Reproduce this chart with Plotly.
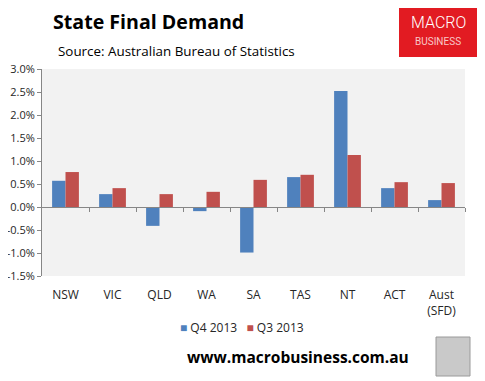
import plotly.graph_objects as go

categories = ["NSW", "VIC", "QLD", "WA", "SA", "TAS", "NT", "ACT", "Aust<br>(SFD)"]
series_names = ["Q4 2013", "Q3 2013"]
q4_2013 = [0.57, 0.28, -0.41, -0.09, -0.99, 0.65, 2.52, 0.41, 0.15]
q3_2013 = [0.76, 0.41, 0.28, 0.33, 0.59, 0.70, 1.13, 0.54, 0.52]
y_ticks = [3.0, 2.5, 2.0, 1.5, 1.0, 0.5, 0.0, -0.5, -1.0, -1.5]
colors = ["#4F81BD", "#C0504D"]

# page body has an 8px margin; work in page pixels and offset
OFF = 8
W, H = 485 - OFF, 381 - OFF
# desired plot area in page pixels: x 42..465, y 69..276
L, R, T, B = 42 - OFF, 485 - 465, 69 - OFF, 381 - 276
FONT = "Open Sans"
PW, PH = W - L - R, H - T - B


def px_x(v):
    return (v - OFF - L) / PW


def px_y(v):
    return 1 - (v - OFF - T) / PH


fig = go.Figure()
fig.add_trace(go.Bar(x=categories, y=q4_2013, name=series_names[0], marker_color=colors[0],
                     marker_line_width=0))
fig.add_trace(go.Bar(x=categories, y=q3_2013, name=series_names[1], marker_color=colors[1],
                     marker_line_width=0))
# helper trace so the zero-line tick axis is drawn
fig.add_trace(go.Scatter(x=[0], y=[0], xaxis="x2", mode="markers", marker_opacity=0,
                         showlegend=False, hoverinfo="skip"))

fig.update_layout(
    width=W, height=H,
    margin=dict(l=L, r=R, t=T, b=B, autoexpand=False),
    paper_bgcolor="white",
    plot_bgcolor="#F2F2F2",
    barmode="group",
    bargap=0.43,
    bargroupgap=0,
    font=dict(family=FONT, size=11, color="#262626"),
    showlegend=False,
    xaxis=dict(type="category", showline=False, ticks="", showgrid=False,
               tickfont=dict(size=12, color="#262626"), range=[-0.5, 8.5],
               ticklabelstandoff=10, automargin=False),
    xaxis2=dict(overlaying="x", anchor="free", position=1.5 / 4.5, range=[-0.5, 8.5],
                showline=True, linecolor="#868686", linewidth=1,
                ticks="outside", ticklen=4, tickcolor="#868686",
                tickvals=[0.5, 1.5, 2.5, 3.5, 4.5, 5.5, 6.5, 7.5, 8.5],
                showticklabels=False, showgrid=False, zeroline=False, side="bottom",
                automargin=False),
    yaxis=dict(range=[-1.5, 3.0], tickvals=y_ticks,
               ticktext=[f"{v:.1f}%" for v in y_ticks],
               showline=True, linecolor="#868686", linewidth=1,
               ticks="outside", ticklen=4, tickcolor="#868686",
               showgrid=False, zeroline=False, automargin=False,
               tickfont=dict(size=11, color="#262626")),
)

# legend (as text with coloured squares)
legend_text = "   ".join(
    f"<span style='color:{c}'>■</span> {n}" for c, n in zip(colors, series_names))
fig.add_annotation(text=legend_text, xref="paper", yref="paper",
                   x=px_x(242), y=px_y(327), xanchor="center", yanchor="middle",
                   showarrow=False, font=dict(family=FONT, size=12, color="#262626"))

# titles
fig.add_annotation(text="<b>State Final Demand</b>", xref="paper", yref="paper",
                   x=px_x(51), y=px_y(22),
                   xanchor="left", yanchor="middle", showarrow=False,
                   font=dict(family=FONT, size=19.6, color="#000000"))
fig.add_annotation(text="Source: Australian Bureau of Statistics", xref="paper", yref="paper",
                   x=px_x(56), y=px_y(51),
                   xanchor="left", yanchor="middle", showarrow=False,
                   font=dict(family=FONT, size=13.4, color="#000000"))
fig.add_annotation(text="<b>www.macrobusiness.com.au</b>", xref="paper", yref="paper",
                   x=px_x(298), y=px_y(357),
                   xanchor="center", yanchor="middle", showarrow=False,
                   font=dict(family=FONT, size=15.5, color="#000000"))

# logo box
fig.add_shape(type="rect", xref="paper", yref="paper",
              x0=px_x(399), x1=px_x(477), y0=px_y(57), y1=px_y(4),
              fillcolor="#E21B22", line=dict(width=0), layer="above")
fig.add_annotation(text="MACRO", xref="paper", yref="paper", x=px_x(438), y=px_y(23),
                   xanchor="center", yanchor="middle", showarrow=False,
                   font=dict(family="Roboto", size=16, weight=300, color="white"))
fig.add_annotation(text="BUSINESS", xref="paper", yref="paper", x=px_x(438), y=px_y(41),
                   xanchor="center", yanchor="middle", showarrow=False,
                   font=dict(family="Roboto", size=10, color="#F8C8C8"))
# fox picture placeholder
fig.add_shape(type="rect", xref="paper", yref="paper",
              x0=px_x(436), x1=px_x(470), y0=px_y(376), y1=px_y(337),
              fillcolor="#C9C9C9", line=dict(width=1, color="#9A9A9A"), layer="above")

fig.write_html("out.html")
